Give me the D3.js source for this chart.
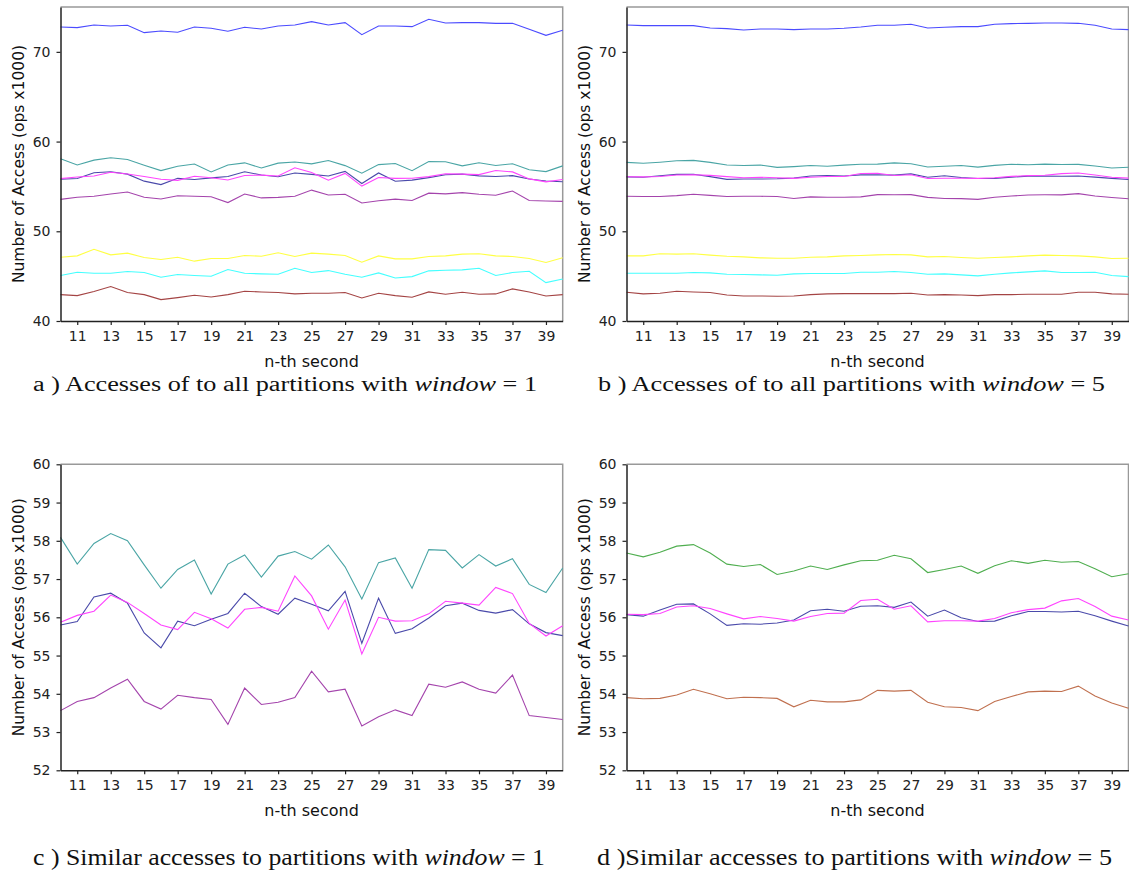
<!DOCTYPE html>
<html>
<head>
<meta charset="utf-8">
<script src="https://cdn.jsdelivr.net/npm/d3@7"></script>
<style>
  body { margin: 0; background: #fff; }
  svg { display: block; }
</style>
</head>
<body>
<svg id="svg" width="1129" height="873"></svg>
<script>
const seconds = [10,11,12,13,14,15,16,17,18,19,20,21,22,23,24,25,26,27,28,29,30,31,32,33,34,35,36,37,38,39,40];
const xTicks = [11,13,15,17,19,21,23,25,27,29,31,33,35,37,39];

// window = 1
const w1Blue = [72.77,72.7,73.0,72.89,72.96,72.14,72.33,72.18,72.77,72.63,72.29,72.74,72.55,72.89,73.0,73.37,73.0,73.26,71.92,72.89,72.89,72.81,73.63,73.22,73.26,73.26,73.18,73.18,72.51,71.84,72.4];
const w1Teal = [58.09,57.39,57.93,58.19,58.0,57.37,56.76,57.25,57.5,56.61,57.39,57.63,57.05,57.6,57.72,57.52,57.89,57.32,56.48,57.43,57.55,56.76,57.77,57.75,57.29,57.64,57.34,57.53,56.86,56.65,57.29];
const w1Navy = [55.8,55.89,56.53,56.63,56.37,55.59,55.2,55.9,55.78,55.95,56.1,56.63,56.28,56.08,56.5,56.34,56.17,56.68,55.32,56.5,55.58,55.7,55.98,56.3,56.37,56.18,56.11,56.2,55.83,55.6,55.52];
const w1Magenta = [55.87,56.05,56.16,56.58,56.39,56.1,55.8,55.68,56.13,55.96,55.72,56.21,56.26,56.16,57.08,56.56,55.69,56.45,55.04,56.0,55.9,55.91,56.09,56.42,56.37,56.32,56.78,56.62,55.84,55.51,55.78];
const w1Purple = [53.56,53.8,53.9,54.15,54.38,53.8,53.6,53.96,53.9,53.85,53.2,54.15,53.72,53.78,53.9,54.59,54.05,54.12,53.16,53.4,53.58,53.43,54.25,54.17,54.31,54.12,54.02,54.49,53.43,53.38,53.33];
const w1Yellow = [47.11,47.26,48.0,47.37,47.56,47.08,46.85,47.11,46.67,46.96,46.96,47.3,47.22,47.6,47.19,47.56,47.45,47.3,46.55,47.26,46.93,46.93,47.19,47.26,47.45,47.49,47.26,47.19,46.96,46.52,47.04];
const w1Cyan = [45.07,45.44,45.33,45.33,45.51,45.4,44.88,45.18,45.07,44.99,45.74,45.33,45.25,45.21,45.88,45.4,45.62,45.21,44.88,45.36,44.8,44.95,45.59,45.66,45.7,45.88,45.07,45.4,45.55,44.28,44.69];
const w1Brown = [42.94,42.83,43.28,43.84,43.17,42.94,42.38,42.61,42.87,42.68,42.94,43.31,43.24,43.17,43.02,43.09,43.09,43.17,42.57,43.09,42.83,42.64,43.24,42.98,43.2,42.98,43.02,43.58,43.24,42.79,42.94];

// window = 5
const w5Blue = [73.0,72.92,72.92,72.92,72.92,72.66,72.59,72.44,72.55,72.55,72.48,72.55,72.55,72.63,72.77,72.96,72.96,73.07,72.66,72.74,72.81,72.81,73.07,73.15,73.18,73.22,73.22,73.18,72.96,72.55,72.48];
const w5Teal = [57.68,57.58,57.7,57.86,57.9,57.68,57.39,57.33,57.38,57.12,57.21,57.34,57.25,57.37,57.48,57.49,57.62,57.53,57.17,57.25,57.34,57.15,57.35,57.48,57.41,57.49,57.44,57.46,57.27,57.06,57.14];
const w5Navy = [56.07,56.03,56.19,56.34,56.35,56.09,55.79,55.83,55.82,55.85,55.93,56.17,56.21,56.16,56.29,56.3,56.26,56.4,56.03,56.19,55.99,55.89,55.9,56.04,56.15,56.15,56.14,56.16,56.04,55.9,55.77];
const w5Magenta = [56.08,56.07,56.1,56.27,56.3,56.23,56.09,55.96,56.02,55.97,55.9,56.02,56.1,56.11,56.44,56.47,56.21,56.3,55.88,55.91,55.91,55.9,55.97,56.12,56.2,56.24,56.43,56.49,56.28,56.03,55.93];
const w5Purple = [53.9,53.87,53.88,53.97,54.12,54.0,53.87,53.91,53.9,53.88,53.66,53.83,53.79,53.79,53.84,54.09,54.07,54.09,53.78,53.66,53.64,53.56,53.8,53.93,54.05,54.07,54.06,54.2,53.94,53.76,53.62];
const w5Yellow = [47.26,47.26,47.49,47.45,47.49,47.34,47.22,47.15,47.04,47.0,47.0,47.11,47.15,47.26,47.3,47.37,47.41,47.37,47.15,47.19,47.08,47.0,47.08,47.15,47.26,47.34,47.3,47.26,47.15,46.96,47.0];
const w5Cyan = [45.33,45.33,45.33,45.33,45.4,45.36,45.21,45.18,45.14,45.1,45.25,45.29,45.29,45.29,45.44,45.44,45.51,45.4,45.21,45.25,45.14,45.03,45.21,45.36,45.48,45.59,45.4,45.4,45.44,45.07,44.95];
const w5Brown = [43.2,43.02,43.09,43.31,43.24,43.17,42.9,42.79,42.79,42.76,42.79,42.94,43.02,43.05,43.05,43.05,43.05,43.09,42.9,42.94,42.9,42.83,42.94,42.94,42.98,42.98,42.98,43.2,43.2,43.02,42.98];

const C = {
  blue: "#4b4bff", teal: "#4aa5a5", navy: "#4a4aaa", magenta: "#ff44ff",
  purple: "#a444ac", yellow: "#ffff44", cyan: "#44ffff", brown: "#a44444",
  green: "#4fae4f", sienna: "#c0704f"
};

const panels = [
  { x0: 60.5, x1: 562.7, y0: 7, y1: 321, domain: [40, 75], yTicks: [40,50,60,70],
    series: [[w1Blue,C.blue],[w1Teal,C.teal],[w1Navy,C.navy],[w1Magenta,C.magenta],[w1Purple,C.purple],[w1Yellow,C.yellow],[w1Cyan,C.cyan],[w1Brown,C.brown]],
    caption: { x: 33, len: 504, y: 391, label: "a  ) Accesses of to all partitions with ", n: "1", size: 20 } },
  { x0: 626.5, x1: 1128.5, y0: 7, y1: 321, domain: [40, 75], yTicks: [40,50,60,70],
    series: [[w5Blue,C.blue],[w5Teal,C.teal],[w5Navy,C.navy],[w5Magenta,C.magenta],[w5Purple,C.purple],[w5Yellow,C.yellow],[w5Cyan,C.cyan],[w5Brown,C.brown]],
    caption: { x: 598, len: 507, y: 391, label: "b  ) Accesses of to all partitions with ", n: "5", size: 20 } },
  { x0: 60.5, x1: 562.7, y0: 464.3, y1: 770.3, domain: [52, 60], yTicks: [52,53,54,55,56,57,58,59,60],
    series: [[w1Teal,C.teal],[w1Navy,C.navy],[w1Magenta,C.magenta],[w1Purple,C.purple]],
    caption: { x: 33, len: 512, y: 865, label: "c  ) Similar accesses to partitions with ", n: "1", size: 24 } },
  { x0: 626.5, x1: 1128.5, y0: 464.3, y1: 770.3, domain: [52, 60], yTicks: [52,53,54,55,56,57,58,59,60],
    series: [[w5Teal,C.green],[w5Navy,C.navy],[w5Magenta,C.magenta],[w5Purple,C.sienna]],
    caption: { x: 597, len: 515, y: 865, label: "d  )Similar accesses to partitions with ", n: "5", size: 24 } }
];

const svg = d3.select("#svg");

panels.forEach(p => {
  const x = d3.scaleLinear().domain([10, 40]).range([p.x0, p.x1]);
  const y = d3.scaleLinear().domain(p.domain).range([p.y1, p.y0]);
  const g = svg.append("g");

  // frame (top / right)
  g.append("path")
    .attr("d", `M${p.x0},${p.y0}H${p.x1}V${p.y1}`)
    .attr("fill", "none").attr("stroke", "#999").attr("stroke-width", 1.5);

  const line = d3.line().x((d, i) => x(seconds[i])).y(d => y(d));
  g.selectAll(".series")
    .data(p.series)
    .enter().append("path")
    .attr("class", "series")
    .attr("d", d => line(d[0]))
    .attr("fill", "none")
    .attr("stroke", d => d[1])
    .attr("stroke-width", 1.1);

  const ax = g.append("g")
    .attr("transform", `translate(0,${p.y1})`)
    .call(d3.axisBottom(x).tickValues(xTicks).tickSize(4).tickPadding(6).tickSizeOuter(0));
  const ay = g.append("g")
    .attr("transform", `translate(${p.x0},0)`)
    .call(d3.axisLeft(y).tickValues(p.yTicks).tickSize(4).tickPadding(6).tickSizeOuter(0));
  [ax, ay].forEach(a => {
    a.attr("font-family", "DejaVu Sans, sans-serif").attr("font-size", 14);
    a.selectAll(".tick text").attr("fill", "#222");
    a.select(".domain").attr("stroke", "#222").attr("stroke-width", 1.5);
    a.selectAll(".tick line").attr("stroke", "#222").attr("stroke-width", 1.2);
  });

  g.append("text")
    .attr("transform", `translate(${p.x0 - 37},${(p.y0 + p.y1) / 2}) rotate(-90)`)
    .attr("text-anchor", "middle")
    .style("font-family", "DejaVu Sans, sans-serif").style("font-size", "15.5px").attr("fill", "#111")
    .text("Number of Access (ops x1000)");

  g.append("text")
    .attr("x", (p.x0 + p.x1) / 2).attr("y", p.y1 + 46)
    .attr("text-anchor", "middle")
    .style("font-family", "DejaVu Sans, sans-serif").style("font-size", "16px").attr("fill", "#111")
    .text("n-th second");

  const cap = g.append("text")
    .attr("x", p.caption.x).attr("y", p.caption.y)
    .attr("textLength", p.caption.len).attr("lengthAdjust", "spacingAndGlyphs")
    .style("font-family", "Liberation Serif, serif").style("font-size", p.caption.size + "px").attr("fill", "#111");
  cap.append("tspan").text(p.caption.label);
  cap.append("tspan").style("font-style", "italic").text("window");
  cap.append("tspan").text(" = " + p.caption.n);
});
</script>
</body>
</html>
